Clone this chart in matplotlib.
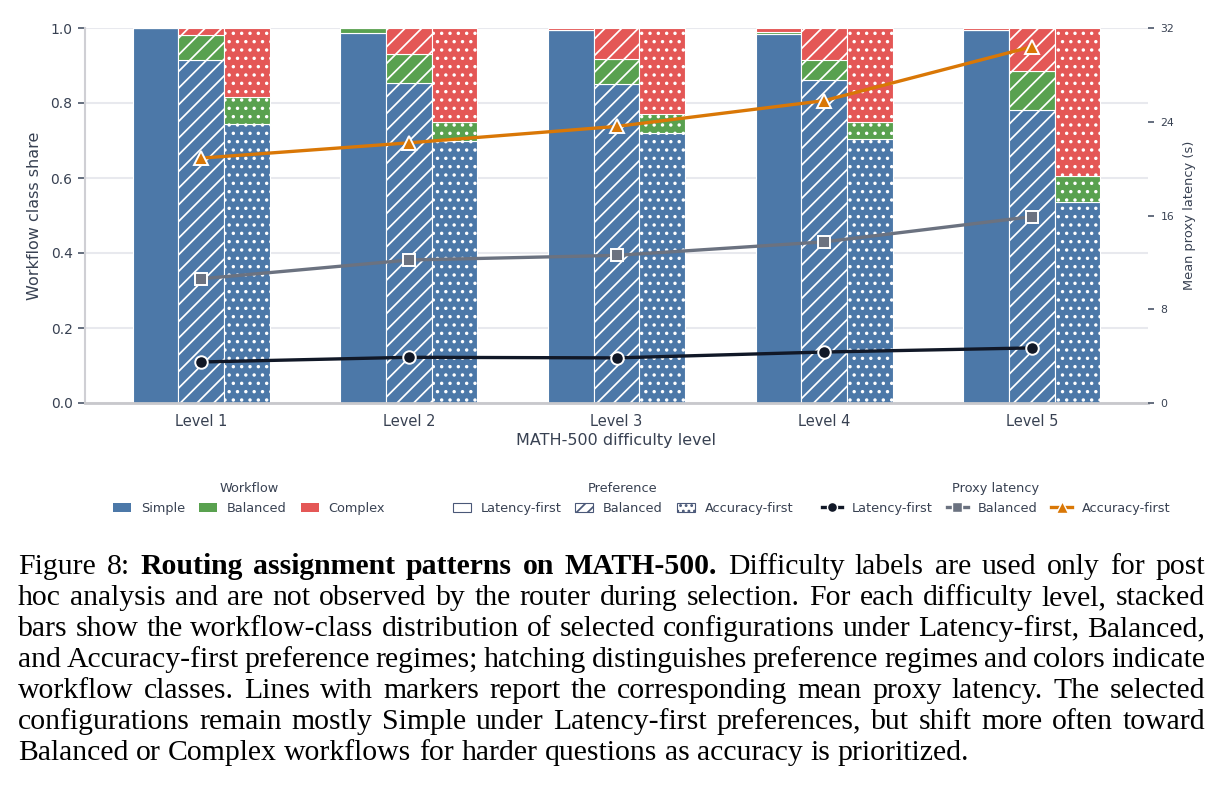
import matplotlib
matplotlib.use("Agg")
import matplotlib.pyplot as plt
from matplotlib.patches import Patch
from matplotlib.lines import Line2D
import numpy as np

# ---------------- data ----------------
levels = ["Level 1", "Level 2", "Level 3", "Level 4", "Level 5"]
preferences = ["Latency-first", "Balanced", "Accuracy-first"]
workflows = ["Simple", "Balanced", "Complex"]

# workflow-class shares per preference regime
simple_latency = [1.000, 0.988, 0.996, 0.984, 0.994]
balanced_latency = [0.000, 0.012, 0.000, 0.006, 0.000]
complex_latency = [0.000, 0.000, 0.004, 0.010, 0.006]

simple_balanced = [0.915, 0.853, 0.850, 0.861, 0.781]
balanced_balanced = [0.066, 0.077, 0.067, 0.055, 0.105]
complex_balanced = [0.019, 0.070, 0.083, 0.084, 0.114]

simple_accuracy = [0.743, 0.699, 0.719, 0.704, 0.537]
balanced_accuracy = [0.072, 0.050, 0.053, 0.046, 0.068]
complex_accuracy = [0.185, 0.251, 0.228, 0.250, 0.395]

# mean proxy latency (s)
latency_latency_first = [3.5, 3.9, 3.85, 4.35, 4.7]
latency_balanced = [10.6, 12.2, 12.6, 13.75, 15.9]
latency_accuracy_first = [20.9, 22.2, 23.6, 25.8, 30.4]

left_ticks = [0.0, 0.2, 0.4, 0.6, 0.8, 1.0]
right_ticks = [0, 8, 16, 24, 32]

caption_lines = [
    "Figure 8: Routing assignment patterns on MATH-500. Difficulty labels are used only for post",
    "hoc analysis and are not observed by the router during selection. For each difficulty level, stacked",
    "bars show the workflow-class distribution of selected configurations under Latency-first, Balanced,",
    "and Accuracy-first preference regimes; hatching distinguishes preference regimes and colors indicate",
    "workflow classes. Lines with markers report the corresponding mean proxy latency. The selected",
    "configurations remain mostly Simple under Latency-first preferences, but shift more often toward",
    "Balanced or Complex workflows for harder questions as accuracy is prioritized.",
]

# ---------------- style ----------------
plt.rcParams['font.family'] = ['DejaVu Sans']
plt.rcParams['hatch.linewidth'] = 1.25

C_SIMPLE = "#4c78a8"
C_BAL = "#59a14f"
C_COMPLEX = "#e45756"
TXT = "#384152"
TICKC = "#4a5568"

W, H = 1224, 794
fig = plt.figure(figsize=(W / 100, H / 100), dpi=100)
ax = fig.add_axes([85 / W, 1 - 403 / H, (1148 - 85) / W, 375 / H])

x = np.arange(len(levels))
bw = 0.22
pref_data = [
    (-bw, None, [simple_latency, balanced_latency, complex_latency]),
    (0.0, "//", [simple_balanced, balanced_balanced, complex_balanced]),
    (bw, "..", [simple_accuracy, balanced_accuracy, complex_accuracy]),
]
colors = [C_SIMPLE, C_BAL, C_COMPLEX]
for off, hatch, series in pref_data:
    bottom = np.zeros(len(levels))
    for vals, col in zip(series, colors):
        vals = np.array(vals)
        ax.bar(x + off, vals, width=bw, bottom=bottom, color=col,
               edgecolor="white", linewidth=0.8, hatch=hatch, zorder=2)
        bottom += vals

ax.set_xlim(-0.56, 4.56)
ax.set_ylim(0, 1.0)
ax.set_yticks(left_ticks)
ax.set_yticklabels([f"{t:.1f}" for t in left_ticks])
ax.set_xticks(x)
ax.set_xticklabels(levels)
ax.yaxis.grid(True, color="#e8e9ee", linewidth=1.5, zorder=0)
ax.set_axisbelow(True)
for s in ["top", "right"]:
    ax.spines[s].set_visible(False)
ax.spines["left"].set_color("#cfcfd4")
ax.spines["left"].set_linewidth(1.5)
ax.spines["bottom"].set_color("#c8c8cc")
ax.spines["bottom"].set_linewidth(2)
ax.tick_params(axis="y", length=5, width=1.2, color=TICKC, labelsize=10,
               labelcolor=TXT, pad=4)
ax.tick_params(axis="x", length=0, labelsize=10.5, labelcolor=TXT, pad=8)
ax.set_xlabel("MATH-500 difficulty level", fontsize=11.5, color=TXT, labelpad=3)
ax.set_ylabel("Workflow class share", fontsize=11.5, color=TXT, labelpad=6)

ax2 = ax.twinx()
ax2.set_ylim(0, 32)
ax2.set_yticks(right_ticks)
for s in ax2.spines.values():
    s.set_visible(False)
ax2.tick_params(axis="y", length=4, width=1.2, color=TICKC, labelsize=7.8,
                labelcolor=TXT, pad=5)
ax2.set_ylabel("Mean proxy latency (s)", fontsize=9.4, color=TXT, labelpad=6)

line_specs = [
    (latency_latency_first, "#111827", "o", 9),
    (latency_balanced, "#6b7280", "s", 8.5),
    (latency_accuracy_first, "#d97706", "^", 10),
]
for vals, col, mk, ms in line_specs:
    ax2.plot(x, vals, color=col, lw=2.4, marker=mk, ms=ms, mec="white",
             mew=1.4, zorder=5)

# ---------------- legends ----------------
leg_kw = dict(loc="upper center", frameon=False, ncol=3, fontsize=9.3,
              title_fontsize=9.3, columnspacing=1.1, handletextpad=0.75,
              borderaxespad=0, labelcolor=TXT)

h1 = [Patch(facecolor=c, edgecolor="none") for c in colors]
l1 = fig.legend(h1, workflows, title="Workflow", bbox_to_anchor=(249 / W, 1 - 477 / H),
                handlelength=1.4, handleheight=0.7, **leg_kw)

EDGE = "#4a5878"
h2 = [Patch(facecolor="white", edgecolor=EDGE, linewidth=0.8, hatch=h)
      for h in [None, "///", "..."]]
l2 = fig.legend(h2, preferences, title="Preference", bbox_to_anchor=(623 / W, 1 - 477 / H),
                handlelength=1.4, handleheight=0.7, **leg_kw)

h3 = [Line2D([0], [0], color=c, lw=2.4, marker=m, ms=ms * 0.8, mec="white", mew=1.0)
      for _, c, m, ms in line_specs]
l3 = fig.legend(h3, preferences, title="Proxy latency", bbox_to_anchor=(996 / W, 1 - 477 / H),
                handlelength=1.6, **leg_kw)
for lg in (l1, l2, l3):
    lg.get_title().set_color(TXT)

# ---------------- caption (justified) ----------------
renderer = fig.canvas.get_renderer()
fs = 21.4
fam = "Liberation Serif"
x0, x1 = 18, 1205
base0, pitch = 574, 31
for i, line in enumerate(caption_lines):
    words = line.split()
    texts = []
    widths = []
    for j, w in enumerate(words):
        bold = (i == 0 and 2 <= j <= 6)
        t = fig.text(0, 0, w, fontsize=fs, family=fam,
                     fontweight="bold" if bold else "normal",
                     ha="left", va="baseline", color="black")
        texts.append(t)
        widths.append(t.get_window_extent(renderer).width)
    total = sum(widths)
    if i < len(caption_lines) - 1 and len(words) > 1:
        gap = (x1 - x0 - total) / (len(words) - 1)
    else:
        gap = 0.25 * fs * 100 / 72
    xp = x0
    yb = base0 + pitch * i
    for t, wdt in zip(texts, widths):
        t.set_position((xp / W, 1 - yb / H))
        xp += wdt + gap

fig.savefig("out.png", dpi=100)
